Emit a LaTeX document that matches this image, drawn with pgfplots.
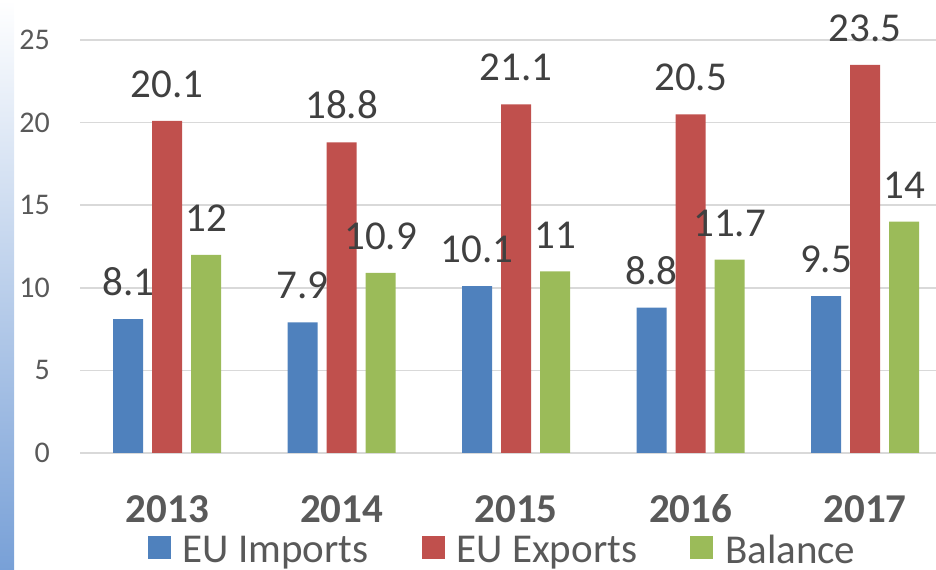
\documentclass[border=0pt]{standalone}
\usepackage{fontspec}
\setmainfont{Carlito}
\usepackage{pgfplots}
\pgfplotsset{compat=1.18}
\definecolor{cblue}{HTML}{4F81BD}
\definecolor{cred}{HTML}{C0504D}
\definecolor{cgreen}{HTML}{9BBB59}
\definecolor{ctxt}{HTML}{595959}
\definecolor{cval}{HTML}{404040}
\definecolor{cgrid}{HTML}{D9D9D9}
\begin{document}
\begin{tikzpicture}
\useasboundingbox (0,0) rectangle (936bp,570bp);
\shade[top color=white, middle color={rgb,255:red,190;green,208;blue,234}, bottom color={rgb,255:red,120;green,160;blue,215}] (0,0) rectangle (14bp,570bp);
\begin{axis}[
  at={(80bp,117bp)}, anchor=south west,
  scale only axis, width=856bp, height=413bp,
  ybar, bar width=30bp,
  xmin=-0.5, xmax=4.407, ymin=0, ymax=25,
  enlargelimits=false,
  xtick={0,1,2,3,4},
  xticklabels={2013,2014,2015,2016,2017},
  ytick={0,5,10,15,20,25},
  axis x line*=bottom,
  axis y line*=left,
  x axis line style={draw=cgrid, line width=1.5bp},
  y axis line style={draw=none},
  ymajorgrids, grid style={cgrid, line width=1.5bp},
  major tick length=0pt,
  /pgf/number format/assume math mode=true,
  xticklabel style={font=\fontsize{41bp}{48bp}\selectfont\bfseries, color=ctxt, anchor=base, inner sep=0pt, yshift=-69bp},
  yticklabel style={font=\fontsize{30bp}{36bp}\selectfont, color=ctxt, anchor=east, inner sep=0pt, xshift=-30bp},
  nodes near coords,
  every node near coord/.append style={font=\fontsize{41bp}{48bp}\selectfont, color=cval, inner sep=0pt, anchor=south, yshift=23bp},
  legend columns=3,
  legend style={at={(axis description cs:0.4924,-0.235)}, anchor=center, draw=none, fill=none,
    font=\fontsize{41bp}{48bp}\selectfont, text=ctxt,
    /tikz/every even column/.append style={column sep=53bp},
    /tikz/every odd column/.append style={column sep=12bp},
    nodes={inner sep=0pt}},
  legend image code/.code={\fill[#1,draw=none] (0bp,-9bp) rectangle (23bp,14bp);},
]
\addplot[fill=cblue, draw=none, bar shift=-39bp] coordinates {(0,8.1) (1,7.9) (2,10.1) (3,8.8) (4,9.5)};
\addplot[fill=cred, draw=none, bar shift=0bp] coordinates {(0,20.1) (1,18.8) (2,21.1) (3,20.5) (4,23.5)};
\addplot[fill=cgreen, draw=none, bar shift=39bp] coordinates {(0,12) (1,10.9) (2,11) (3,11.7) (4,14)};
\legend{EU Imports, EU Exports, Balance}
\end{axis}
\end{tikzpicture}
\end{document}
